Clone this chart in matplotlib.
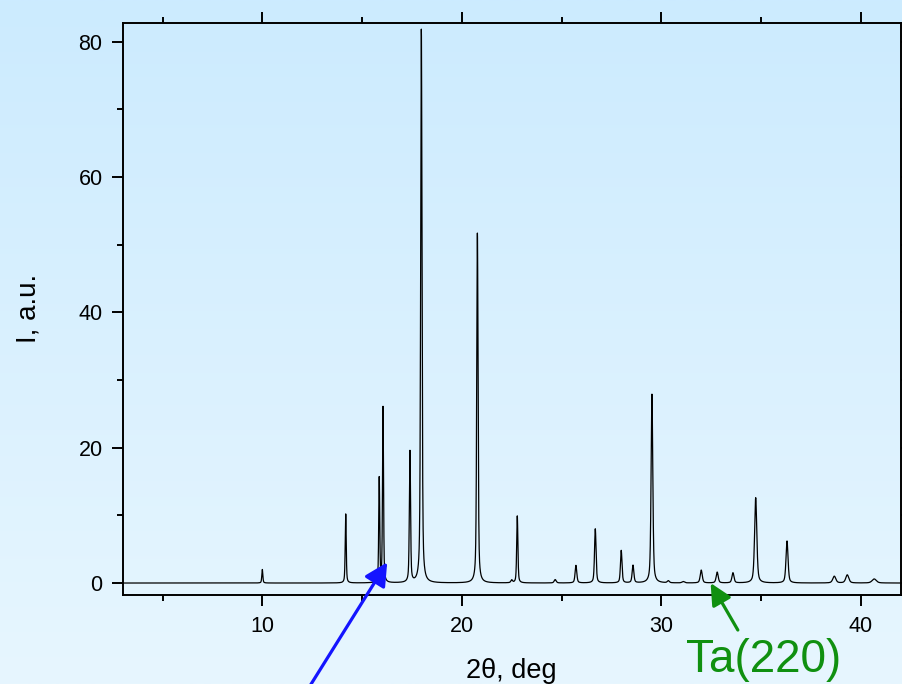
import numpy as np
import matplotlib
matplotlib.use("Agg")
import matplotlib.pyplot as plt
from matplotlib.ticker import MultipleLocator

plt.rcParams['font.family'] = ['Liberation Sans', 'DejaVu Sans']

# peak table: position (2theta, deg), height (a.u.), FWHM (deg)
peak_pos = [10.0, 14.18, 15.86, 16.05, 17.40, 17.97, 20.78, 22.50, 22.78, 24.68,
            25.72, 26.69, 27.99, 28.58, 29.53, 30.35, 31.10, 32.00, 32.80, 33.59,
            34.73, 36.30, 38.67, 39.32, 40.67]
peak_height = [2.0, 10.2, 15.4, 25.9, 19.4, 81.8, 51.7, 0.4, 9.9, 0.5,
               2.6, 8.0, 4.8, 2.6, 27.9, 0.3, 0.2, 1.9, 1.6, 1.5,
               12.6, 6.2, 1.0, 1.2, 0.6]
peak_fwhm = [0.06, 0.06, 0.06, 0.06, 0.07, 0.08, 0.08, 0.10, 0.07, 0.12,
             0.10, 0.09, 0.09, 0.10, 0.10, 0.12, 0.15, 0.12, 0.12, 0.12,
             0.13, 0.12, 0.18, 0.18, 0.25]

x_range = (3.0, 42.0)
green = '#109010'
blue = '#1414ff'

two_theta = np.arange(3.0, 42.0, 0.005)
intensity = np.zeros_like(two_theta)
for p, h, w in zip(peak_pos, peak_height, peak_fwhm):
    # pseudo-Voigt profile, half gauss / half lorentz
    g = np.exp(-4 * np.log(2) * ((two_theta - p) / w) ** 2)
    lz = 1.0 / (1.0 + 4 * ((two_theta - p) / w) ** 2)
    intensity += h * (0.5 * g + 0.5 * lz)

fig = plt.figure(figsize=(9.02, 6.84), dpi=100)

# light blue gradient behind everything
bg = fig.add_axes([0, 0, 1, 1], zorder=0)
top_col = np.array([204, 235, 255]) / 255.0
bot_col = np.array([231, 246, 254]) / 255.0
t = np.linspace(0, 1, 256)[:, None]
grad = (top_col[None, :] * (1 - t) + bot_col[None, :] * t)[:, None, :]
bg.imshow(grad, aspect='auto', extent=[0, 1, 0, 1])
bg.set_axis_off()

ax = fig.add_axes([0.136, 0.1305, 0.8626, 0.8363], zorder=1)
ax.set_facecolor('none')
ax.plot(two_theta, intensity, color='black', lw=0.9)

ax.set_xlim(*x_range)
ax.set_ylim(-1.73, 82.8)
ax.xaxis.set_major_locator(MultipleLocator(10))
ax.xaxis.set_minor_locator(MultipleLocator(5))
ax.yaxis.set_major_locator(MultipleLocator(20))
ax.yaxis.set_minor_locator(MultipleLocator(10))
ax.tick_params(which='both', direction='out', top=True, right=True, width=1.4,
               labelsize=15.5)
ax.tick_params(which='major', length=8)
ax.tick_params(which='minor', length=4.5)
ax.tick_params(axis='x', pad=7.5)
ax.tick_params(axis='y', pad=6.5)
for s in ax.spines.values():
    s.set_linewidth(1.4)

ax.set_xlabel('2θ, deg', fontsize=19.5)
ax.xaxis.label.set_va('baseline')
ax.xaxis.set_label_coords(0.5, -0.1456)
ax.set_ylabel('I, a.u.', fontsize=20)
ax.yaxis.label.set_va('baseline')
ax.yaxis.set_label_coords(-0.1125, 0.5)

# blue arrow coming from below the figure
ax.annotate('', xy=(16.26, 3.06), xycoords='data',
            xytext=(0.32, -0.0526), textcoords='figure fraction',
            arrowprops=dict(arrowstyle='-|>,head_length=0.7,head_width=0.36',
                            color=blue, lw=2.3, shrinkA=0, shrinkB=0,
                            mutation_scale=20),
            annotation_clip=False, zorder=5)

# Ta(220) marker
ax.annotate('', xy=(32.47, 0.0), xycoords='data',
            xytext=(0.818, 0.0789), textcoords='figure fraction',
            arrowprops=dict(arrowstyle='-|>,head_length=0.65,head_width=0.32',
                            color=green, lw=2.3, shrinkA=0, shrinkB=0,
                            mutation_scale=20),
            annotation_clip=False, zorder=5)
fig.text(0.760, 0.018, 'Ta(220)', color=green, fontsize=33, va='baseline', ha='left')

fig.savefig('out.png', dpi=100)
